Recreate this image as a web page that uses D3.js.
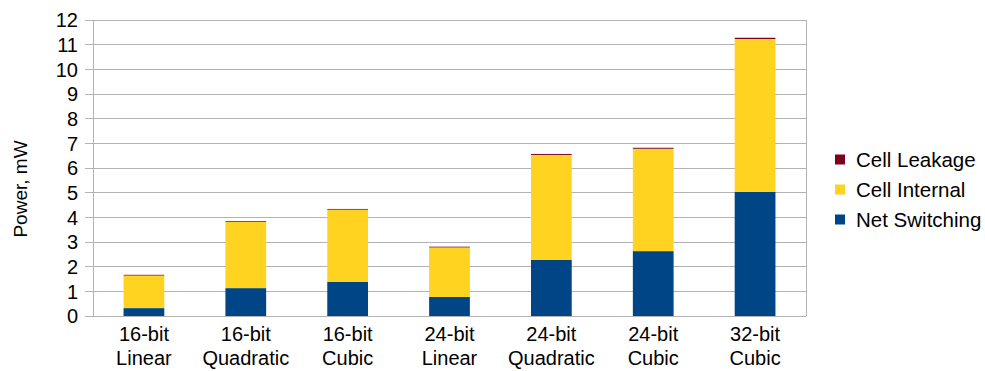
<!DOCTYPE html>
<html><head><meta charset="utf-8">
<script src="https://cdn.jsdelivr.net/npm/d3@7"></script>
<style>body{margin:0;background:#fff;} text{font-family:"Liberation Sans",Arial,sans-serif;fill:#000;}</style>
</head><body>
<svg id="c" width="985" height="371"></svg>
<script>
const categories = [["16-bit","Linear"],["16-bit","Quadratic"],["16-bit","Cubic"],["24-bit","Linear"],["24-bit","Quadratic"],["24-bit","Cubic"],["32-bit","Cubic"]];
const netSwitching = [0.32, 1.13, 1.38, 0.77, 2.27, 2.63, 5.03];
const cellInternal = [1.32, 2.69, 2.93, 2.01, 4.26, 4.15, 6.20];
const cellLeakage  = [0.03, 0.03, 0.03, 0.03, 0.04, 0.04, 0.05];
const seriesNames = ["Net Switching","Cell Internal","Cell Leakage"];
const colors = ["#004586","#ffd320","#7e0021"];
const yTicks = d3.range(0, 13, 1);

const svg = d3.select("#c");
const m = {l:93, r:806, t:20, b:316};
const x = d3.scaleBand().domain(categories.map((d,i)=>i)).range([m.l, m.r]).paddingInner(0.6).paddingOuter(0.3);
const y = d3.scaleLinear().domain([0,12]).range([m.b, m.t]);

// grid
svg.append("g").selectAll("line").data(yTicks).join("line")
  .attr("x1", m.l-8).attr("x2", m.r).attr("y1", d=>y(d)).attr("y2", d=>y(d))
  .attr("stroke", "#b3b3b3").attr("stroke-width", 1).attr("shape-rendering","crispEdges");
svg.append("line").attr("x1", m.l).attr("x2", m.l).attr("y1", m.t).attr("y2", m.b)
  .attr("stroke", "#b3b3b3").attr("shape-rendering","crispEdges");
svg.append("line").attr("x1", m.r).attr("x2", m.r).attr("y1", m.t).attr("y2", m.b)
  .attr("stroke", "#b3b3b3").attr("shape-rendering","crispEdges");

// y labels
svg.append("g").selectAll("text").data(yTicks).join("text")
  .attr("x", 78).attr("y", d=>y(d)).attr("dy", "0.36em").attr("text-anchor","end")
  .attr("font-size", 20).text(d=>d);

// stacked bars
const rows = categories.map((c,i)=>({i, "Net Switching":netSwitching[i], "Cell Internal":cellInternal[i], "Cell Leakage":cellLeakage[i]}));
const stack = d3.stack().keys(seriesNames)(rows);
svg.append("g").selectAll("g").data(stack).join("g").attr("fill",(d,k)=>colors[k])
  .selectAll("rect").data(d=>d).join("rect")
  .attr("x", d=>x(d.data.i)).attr("width", x.bandwidth())
  .attr("y", d=>y(d[1])).attr("height", d=>y(d[0])-y(d[1]));

// x labels
const xl = svg.append("g").selectAll("text").data(categories).join("text")
  .attr("text-anchor","middle").attr("font-size", 20);
xl.append("tspan").attr("x",(d,i)=>x(i)+x.bandwidth()/2).attr("y",341).text(d=>d[0]);
xl.append("tspan").attr("x",(d,i)=>x(i)+x.bandwidth()/2).attr("y",365).text(d=>d[1]);

// y axis title
svg.append("text").attr("transform","translate(27,189) rotate(-90)").attr("text-anchor","middle")
  .attr("font-size", 19).text("Power, mW");

// legend
const leg = [2,1,0];
const lg = svg.append("g").selectAll("g").data(leg).join("g")
  .attr("transform",(d,j)=>`translate(835,${159.5+j*30})`);
lg.append("rect").attr("x",0).attr("y",-5).attr("width",10).attr("height",10).attr("fill",d=>colors[d]);
lg.append("text").attr("x",21).attr("dy","0.36em").attr("font-size",20.5).text(d=>seriesNames[d]);
</script>
</body></html>
